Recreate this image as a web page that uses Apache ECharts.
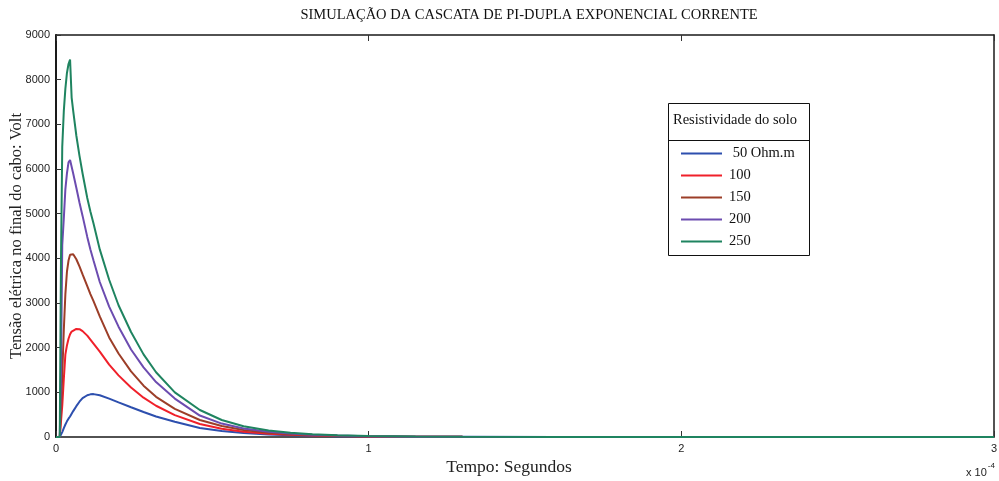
<!DOCTYPE html>
<html>
<head>
<meta charset="utf-8">
<script src="https://cdn.jsdelivr.net/npm/echarts@6/dist/echarts.min.js"></script>
<style>
  html, body { margin: 0; padding: 0; background: #fff; }
  #chart { width: 999px; height: 481px; }
</style>
</head>
<body>
<div id="chart"></div>
<script>
// Time samples in microseconds (axis shows units of 1e-4 s)
const timeUs = [0, 1.2, 1.6, 2.0, 2.5, 3.0, 3.5, 4.0, 4.5, 5.0, 5.5, 6.5, 7.5, 8.5, 10, 11, 12, 14, 17, 20, 24, 28, 32, 38, 46, 53, 60, 68, 75, 82, 90, 100, 115, 130, 160, 200, 250, 300];

// Voltage at the end of the cable (V) for each soil resistivity
const v50  = [0, 0, 40, 110, 200, 280, 350, 410, 460, 520, 580, 690, 790, 870, 935, 955, 960, 935, 860, 775, 665, 560, 460, 340, 200, 135, 90, 58, 40, 28, 18, 10, 5, 3, 1, 0, 0, 0];
const v100 = [0, 0, 350, 700, 1300, 1850, 2050, 2200, 2300, 2360, 2400, 2420, 2415, 2370, 2270, 2180, 2090, 1910, 1620, 1380, 1110, 880, 700, 490, 290, 185, 120, 75, 50, 33, 20, 12, 6, 3, 1, 0, 0, 0];
const v150 = [0, 0, 600, 1400, 2400, 3200, 3700, 3950, 4080, 4110, 4090, 3980, 3820, 3640, 3380, 3200, 3040, 2700, 2230, 1870, 1470, 1150, 900, 630, 380, 245, 155, 95, 63, 42, 26, 15, 7, 3, 1, 0, 0, 0];
const v200 = [0, 0, 1500, 4300, 4900, 5550, 5900, 6150, 6200, 6050, 5900, 5580, 5250, 4950, 4480, 4200, 3950, 3470, 2920, 2470, 1960, 1560, 1230, 860, 480, 300, 190, 118, 78, 52, 32, 18, 8, 4, 1, 0, 0, 0];
const v250 = [0, 0, 4000, 6500, 7300, 7800, 8150, 8350, 8450, 7600, 7300, 6750, 6300, 5900, 5350, 5050, 4780, 4200, 3520, 2950, 2350, 1850, 1450, 1000, 604, 380, 240, 145, 95, 62, 38, 22, 10, 5, 1, 0, 0, 0];

const seriesNames = [' 50 Ohm.m', '100', '150', '200', '250'];
const seriesValues = [v50, v100, v150, v200, v250];
const seriesColors = ['#2d4fae', '#f0202a', '#9c3e28', '#6c4cb0', '#1f8460'];

const yTicks = [0, 1000, 2000, 3000, 4000, 5000, 6000, 7000, 8000, 9000];
const xTicks = [0, 1, 2, 3];

const serif = '"Liberation Serif", "DejaVu Serif", serif';
const sans = '"Liberation Sans", Arial, sans-serif';

const chart = echarts.init(document.getElementById('chart'));

const frameLine = { show: true, onZero: false, lineStyle: { color: '#1a1a1a', width: 1.5 } };

const option = {
  animation: false,
  backgroundColor: '#fff',
  grid: { left: 56, right: 5, top: 35, bottom: 44, containLabel: false, outerBoundsMode: 'none' },
  xAxis: [
    {
      type: 'value', min: 0, max: 300, interval: 100,
      axisLine: frameLine,
      axisTick: { show: true, inside: true, length: 6, lineStyle: { color: '#333' } },
      axisLabel: { color: '#222', fontFamily: sans, fontSize: 11, margin: 6,
                   formatter: v => String(xTicks[Math.round(v / 100)]) },
      splitLine: { show: false }
    },
    {
      type: 'value', min: 0, max: 300, interval: 100, position: 'top',
      axisLine: frameLine,
      axisTick: { show: true, inside: true, length: 6, lineStyle: { color: '#333' } },
      axisLabel: { show: false },
      splitLine: { show: false }
    }
  ],
  yAxis: [
    {
      type: 'value', min: 0, max: 9000, interval: 1000,
      axisLine: { show: true, onZero: false, lineStyle: { color: '#1a1a1a', width: 2 } },
      axisTick: { show: true, inside: true, length: 5, lineStyle: { color: '#333' } },
      axisLabel: { color: '#222', fontFamily: sans, fontSize: 11, margin: 6,
                   formatter: v => String(yTicks[Math.round(v / 1000)]) },
      splitLine: { show: false },
      name: 'Tensão elétrica no final do cabo: Volt',
      nameLocation: 'middle', nameGap: 31, nameMoveOverlap: false,
      nameTextStyle: { fontFamily: serif, fontSize: 16.5, color: '#222' }
    },
    {
      type: 'value', min: 0, max: 9000, interval: 1000, position: 'right',
      axisLine: frameLine,
      axisTick: { show: false },
      axisLabel: { show: false },
      splitLine: { show: false }
    }
  ],
  legend: {
    orient: 'vertical',
    left: 676, top: 141,
    itemWidth: 41, itemHeight: 2, itemGap: 7,
    icon: 'rect',
    textStyle: { fontFamily: serif, fontSize: 14.5, color: '#111', padding: [0, 0, 0, 2] },
    data: seriesNames
  },
  series: seriesNames.map((name, i) => ({
    name: name,
    type: 'line',
    showSymbol: false,
    symbol: 'none',
    color: seriesColors[i],
    lineStyle: { width: 2, color: seriesColors[i] },
    data: timeUs.map((t, k) => [t, seriesValues[i][k]]),
    z: 2 + i
  })),
  graphic: [
    {
      type: 'text', x: 529, y: 8,
      style: { text: 'SIMULAÇÃO DA CASCATA DE PI-DUPLA EXPONENCIAL CORRENTE',
               font: '14.5px ' + serif, fill: '#111', align: 'center' }
    },
    {
      type: 'text', x: 509, y: 458,
      style: { text: 'Tempo: Segundos', font: '17.5px ' + serif, fill: '#222', align: 'center', verticalAlign: 'top' }
    },
    {
      type: 'text', x: 966, y: 462,
      style: {
        text: '{b|x 10}{s|-4}',
        rich: {
          b: { font: '11px ' + sans, fill: '#222', verticalAlign: 'bottom' },
          s: { font: '8px ' + sans, fill: '#222', verticalAlign: 'top', padding: [0, 0, 8, 1] }
        }
      }
    },
    // legend frame with its heading
    {
      type: 'rect', shape: { x: 668.5, y: 103.5, width: 141, height: 152 },
      style: { fill: '#fff', stroke: '#111', lineWidth: 1 }, z: 0, silent: true
    },
    {
      type: 'line', shape: { x1: 668.5, y1: 140.5, x2: 809.5, y2: 140.5 },
      style: { stroke: '#111', lineWidth: 1.2 }, z: 1, silent: true
    },
    {
      type: 'text', x: 673, y: 113,
      style: { text: 'Resistividade do solo', font: '14.5px ' + serif, fill: '#111' }, z: 1
    }
  ]
};

chart.setOption(option);
</script>
</body>
</html>
